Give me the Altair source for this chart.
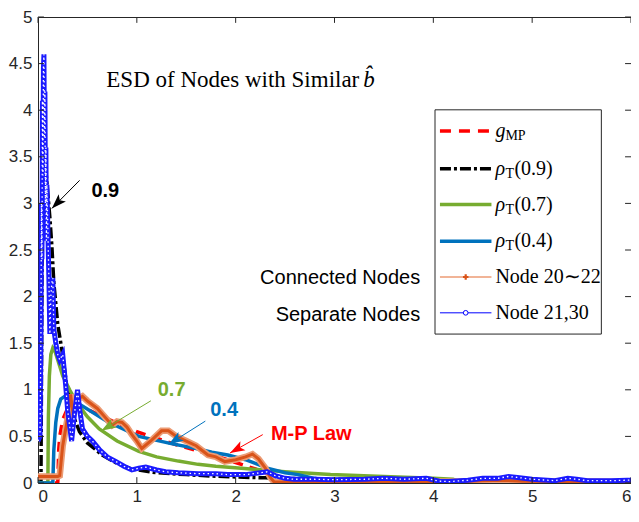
import math
import altair as alt
import pandas as pd

# ---------------- data ----------------
X_TICKS = [0, 1, 2, 3, 4, 5, 6]
Y_TICKS = [0, 0.5, 1, 1.5, 2, 2.5, 3, 3.5, 4, 4.5, 5]

mp_x = [0, 0.2, 0.21, 0.22, 0.25, 0.3, 0.35, 0.4, 0.5, 0.6, 0.8, 1.0, 1.2, 1.4, 1.6,
        1.8, 2.0, 2.2, 2.3, 2.38, 2.41, 3.0, 4.0, 5.0, 6.0]
mp_y = [0, 0, 0.36, 0.50, 0.68, 0.80, 0.83, 0.82, 0.79, 0.74, 0.64, 0.55, 0.48, 0.41, 0.35,
        0.29, 0.22, 0.15, 0.11, 0.06, 0, 0, 0, 0, 0]

r9_x = [0, 0.03, 0.04, 0.05, 0.065, 0.08, 0.1, 0.12, 0.14, 0.16, 0.2, 0.24, 0.29, 0.35, 0.42,
        0.5, 0.65, 0.8, 0.95, 1.2, 1.5, 1.75, 2.0, 2.3, 3.0, 3.5, 4.0, 4.5, 5.0, 5.5, 6.0]
r9_y = [0, 0, 2.2, 3.3, 3.5, 3.35, 3.1, 2.85, 2.55, 2.15, 1.7, 1.44, 1.05, 0.74, 0.55,
        0.43, 0.30, 0.21, 0.15, 0.11, 0.09, 0.075, 0.065, 0.055, 0.04, 0.035, 0.03, 0.025, 0.02, 0.015, 0.01]

r7_x = [0, 0.1, 0.105, 0.115, 0.13, 0.15, 0.17, 0.2, 0.25, 0.32, 0.4, 0.5, 0.62, 0.8, 1.02,
        1.2, 1.42, 1.62, 1.8, 2.09, 2.5, 2.96, 3.5, 4.0, 4.2, 4.3, 6.0]
r7_y = [0, 0, 0.7, 1.15, 1.38, 1.45, 1.42, 1.32, 1.15, 1.0, 0.85, 0.71, 0.58, 0.45, 0.34,
        0.28, 0.235, 0.2, 0.18, 0.155, 0.12, 0.09, 0.07, 0.05, 0.04, 0, 0]

r4_x = [0, 0.15, 0.16, 0.18, 0.2, 0.23, 0.27, 0.3, 0.35, 0.49, 0.7, 1.02, 1.36, 1.6, 1.76,
        1.92, 2.1, 2.32, 2.5, 2.63, 2.8, 2.95, 3.0, 6.0]
r4_y = [0, 0, 0.35, 0.65, 0.8, 0.9, 0.93, 0.92, 0.89, 0.8, 0.66, 0.5, 0.42, 0.37, 0.33,
        0.3, 0.25, 0.16, 0.11, 0.09, 0.05, 0.02, 0, 0]

con_x = [0, 0.2, 0.22, 0.25, 0.3, 0.33, 0.35, 0.4, 0.45, 0.5, 0.6, 0.7, 0.75, 0.8, 0.85,
         0.9, 0.95, 1.0, 1.05, 1.15, 1.25, 1.32, 1.4, 1.5, 1.6, 1.72, 1.8, 1.89, 2.0, 2.1,
         2.17, 2.23, 2.3, 2.35, 2.39, 2.6, 3.0, 3.5, 4.0, 4.3, 4.5, 4.7, 4.9, 5.2, 5.5, 6.0]
con_y = [0.07, 0.07, 0.08, 0.4, 0.7, 0.95, 0.78, 0.9, 0.93, 0.88, 0.8, 0.68, 0.62, 0.66, 0.65,
         0.6, 0.52, 0.45, 0.37, 0.46, 0.56, 0.56, 0.5, 0.45, 0.4, 0.3, 0.28, 0.23, 0.25, 0.28,
         0.31, 0.26, 0.16, 0.06, 0.01, 0.01, 0.015, 0.01, 0.015, 0.015, 0.025, 0.03, 0.02, 0.015, 0.015, 0.01]

sep_x = [0, 0.02, 0.03, 0.035, 0.04, 0.045, 0.05, 0.055, 0.06, 0.065, 0.07, 0.075, 0.08,
         0.085, 0.09, 0.1, 0.11, 0.12, 0.13, 0.14, 0.15, 0.16, 0.18, 0.2, 0.22, 0.25, 0.28,
         0.3, 0.34, 0.37, 0.4, 0.42, 0.45, 0.5, 0.55, 0.62, 0.7, 0.79, 0.87, 0.95, 1.02, 1.09,
         1.2, 1.29, 1.42, 1.62, 1.8, 1.92, 2.1, 2.25, 2.32, 2.4, 2.5, 2.59, 2.8, 3.0, 3.3, 3.5,
         3.7, 3.93, 4.06, 4.16, 4.35, 4.5, 4.65, 4.76, 4.85, 5.0, 5.23, 5.36, 5.45, 5.56, 5.8,
         5.96, 6.0]
sep_y = [0.45, 0.5, 1.6, 3.0, 2.4, 4.1, 3.3, 4.45, 4.6, 3.7, 4.2, 3.0, 3.6,
         2.6, 3.2, 2.7, 2.2, 1.6, 2.0, 2.15, 2.2, 1.65, 1.5, 1.38, 1.32, 1.38, 1.05,
         0.78, 0.45, 0.75, 1.0, 0.8, 0.58, 0.5, 0.45, 0.36, 0.28, 0.23, 0.18, 0.14, 0.16, 0.17,
         0.14, 0.12, 0.11, 0.10, 0.1, 0.09, 0.09, 0.11, 0.12, 0.08, 0.05, 0.04, 0.04, 0.035, 0.04, 0.05,
         0.04, 0.05, 0.02, 0.015, 0.03, 0.05, 0.05, 0.07, 0.06, 0.04, 0.025, 0.05, 0.04, 0.025, 0.025,
         0.03, 0.03]

# legend / annotation anchors (data units)
LEG_BOX = (4.017, 5.70, 4.004, 1.598)
LEG_ROWS = [3.776, 3.371, 2.988, 2.593, 2.21, 1.826]
LEG_LINE = (4.067, 4.588)
LEG_TEXT_X = 4.628

ann_text = ["0.9", "0.7", "0.4", "M-P Law"]
ann_color = ["#000000", "#77AC30", "#0072BD", "#FF0000"]
ann_tx = [0.681, 1.352, 1.883, 2.765]
ann_ty = [3.133, 0.996, 0.778, 0.529]
arr_tail_x = [0.421, 1.142, 1.693, 2.274]
arr_tail_y = [3.247, 0.882, 0.664, 0.519]
arr_head_x = [0.140, 0.641, 1.322, 1.943]
arr_head_y = [2.946, 0.560, 0.415, 0.322]

# ---------------- scales and helpers ----------------
W, H = 593, 466
xs = alt.Scale(domain=[0, 6], nice=False, zero=False)
ys = alt.Scale(domain=[0, 5], nice=False, zero=False)
xax = alt.Axis(values=X_TICKS, format="~g", labelPadding=18, labelBaseline="alphabetic", title=None)
yax = alt.Axis(values=Y_TICKS, format="~g", labelPadding=6, title=None)


def ex(f):
    return alt.X(f"{f}:Q", scale=xs, axis=xax)


def ey(f):
    return alt.Y(f"{f}:Q", scale=ys, axis=yax)


def series(xv, yv, **mark):
    df = pd.DataFrame({"x": xv, "y": yv, "i": range(len(xv))})
    return alt.Chart(df).mark_line(clip=True, **mark).encode(x=ex("x"), y=ey("y"), order="i:Q")


layers = []
layers.append(series(mp_x, mp_y, color="#FF0000", strokeWidth=3.5, strokeDash=[10, 7]))
layers.append(series(r9_x, r9_y, color="#000000", strokeWidth=3.5, strokeDash=[11, 3, 3, 3]))
layers.append(series(r7_x, r7_y, color="#77AC30", strokeWidth=3.5))
layers.append(series(r4_x, r4_y, color="#0072BD", strokeWidth=3.5))
layers.append(series(con_x, con_y, color="#EC9B74", strokeWidth=6.5))
layers.append(series(con_x, con_y, color="#D95319", strokeWidth=3))
layers.append(series(sep_x, sep_y, color="#1A1AFF", strokeWidth=5))
layers.append(series(sep_x, sep_y, color="#FFFFFF", strokeWidth=1.3, strokeDash=[1.5, 3]))

# inward ticks
TX, TY = 0.06, 0.063
tk = []
for t in X_TICKS:
    tk.append({"x": t, "x2": t, "y": 0, "y2": TY})
    tk.append({"x": t, "x2": t, "y": 5, "y2": 5 - TY})
for v in Y_TICKS:
    tk.append({"x": 0, "x2": TX, "y": v, "y2": v})
    tk.append({"x": 6, "x2": 6 - TX, "y": v, "y2": v})
layers.append(alt.Chart(pd.DataFrame(tk)).mark_rule(color="#262626", strokeWidth=1).encode(
    x=ex("x"), x2="x2:Q", y=ey("y"), y2="y2:Q"))

# title
layers.append(alt.Chart(pd.DataFrame({"x": [0.691], "y": [4.326], "t": ["ESD of Nodes with Similar"]}))
              .mark_text(font="Liberation Serif", fontSize=23, align="left", baseline="middle", color="#000000")
              .encode(x=ex("x"), y=ey("y"), text="t:N"))
layers.append(alt.Chart(pd.DataFrame({"x": [3.29], "y": [4.326], "t": ["b\u0302"]}))
              .mark_text(font="Liberation Serif", fontSize=23, fontStyle="italic", align="left",
                         baseline="middle", color="#000000")
              .encode(x=ex("x"), y=ey("y"), text="t:N"))

# annotations + arrows
PXX, PXY = W / 6, H / 5
angles = []
for tx, ty, hx, hy in zip(arr_tail_x, arr_tail_y, arr_head_x, arr_head_y):
    dx = (hx - tx) * PXX
    dy = -(hy - ty) * PXY
    angles.append(math.degrees(math.atan2(dx, -dy)) % 360)
arr = pd.DataFrame({"tx": arr_tail_x, "ty": arr_tail_y, "hx": arr_head_x, "hy": arr_head_y,
                    "c": ann_color, "a": angles})
layers.append(alt.Chart(arr).mark_rule(strokeWidth=1).encode(
    x=ex("tx"), y=ey("ty"), x2="hx:Q", y2="hy:Q", color=alt.Color("c:N", scale=None)))
layers.append(alt.Chart(arr).mark_point(shape="M0,0L0.45,1.3L0,1.0L-0.45,1.3Z", filled=True, opacity=1,
                                        size=520, strokeWidth=0).encode(
    x=ex("hx"), y=ey("hy"), color=alt.Color("c:N", scale=None), angle=alt.Angle("a:Q", scale=None)))
ann = pd.DataFrame({"x": ann_tx, "y": ann_ty, "t": ann_text, "c": ann_color})
layers.append(alt.Chart(ann).mark_text(font="Liberation Sans", fontSize=20, fontWeight="bold",
                                       baseline="middle", align="center").encode(
    x=ex("x"), y=ey("y"), text="t:N", color=alt.Color("c:N", scale=None)))

side = pd.DataFrame({"x": [3.867, 3.867], "y": [2.199, 1.805], "t": ["Connected Nodes", "Separate Nodes"]})
layers.append(alt.Chart(side).mark_text(font="Liberation Sans", fontSize=20, align="right",
                                        baseline="middle", color="#000000").encode(
    x=ex("x"), y=ey("y"), text="t:N"))

# legend box
lb = pd.DataFrame({"x": [LEG_BOX[0]], "x2": [LEG_BOX[1]], "y": [LEG_BOX[2]], "y2": [LEG_BOX[3]]})
layers.append(alt.Chart(lb).mark_rect(fill="white", stroke="#262626", strokeWidth=1).encode(
    x=ex("x"), x2="x2:Q", y=ey("y"), y2="y2:Q"))

leg_styles = [
    dict(color="#FF0000", strokeWidth=3.5, strokeDash=[11, 8]),
    dict(color="#000000", strokeWidth=3.5, strokeDash=[11, 3, 3, 3]),
    dict(color="#77AC30", strokeWidth=3.5),
    dict(color="#0072BD", strokeWidth=3.5),
    dict(color="#EC9B74", strokeWidth=1.5),
    dict(color="#0000FF", strokeWidth=1),
]
for ry, st in zip(LEG_ROWS, leg_styles):
    d = pd.DataFrame({"x": [LEG_LINE[0]], "x2": [LEG_LINE[1]], "y": [ry]})
    layers.append(alt.Chart(d).mark_rule(**st).encode(x=ex("x"), x2="x2:Q", y=ey("y")))

mid = (LEG_LINE[0] + LEG_LINE[1]) / 2
layers.append(alt.Chart(pd.DataFrame({"x": [mid], "y": [LEG_ROWS[4]]})).mark_point(
    shape="cross", filled=True, size=30, color="#D95319", opacity=1).encode(x=ex("x"), y=ey("y")))
layers.append(alt.Chart(pd.DataFrame({"x": [mid], "y": [LEG_ROWS[5]]})).mark_point(
    shape="circle", filled=True, fill="white", stroke="#0000FF", strokeWidth=1, size=22, opacity=1).encode(
    x=ex("x"), y=ey("y")))

# legend text
main_t = pd.DataFrame({"x": [LEG_TEXT_X] * 4, "y": LEG_ROWS[:4], "t": ["g", "\u03c1", "\u03c1", "\u03c1"]})
layers.append(alt.Chart(main_t).mark_text(font="Liberation Serif", fontSize=20, fontStyle="italic",
                                          align="left", baseline="middle", color="#000000").encode(
    x=ex("x"), y=ey("y"), text="t:N"))
sub_t = pd.DataFrame({"x": [LEG_TEXT_X] * 4, "y": LEG_ROWS[:4], "t": ["MP", "T", "T", "T"]})
layers.append(alt.Chart(sub_t).mark_text(font="Liberation Serif", fontSize=14, align="left",
                                         baseline="middle", dx=10, dy=5, color="#000000").encode(
    x=ex("x"), y=ey("y"), text="t:N"))
arg_t = pd.DataFrame({"x": [LEG_TEXT_X] * 3, "y": LEG_ROWS[1:4], "t": ["(0.9)", "(0.7)", "(0.4)"]})
layers.append(alt.Chart(arg_t).mark_text(font="Liberation Serif", fontSize=20, align="left",
                                         baseline="middle", dx=19, color="#000000").encode(
    x=ex("x"), y=ey("y"), text="t:N"))
node_t = pd.DataFrame({"x": [LEG_TEXT_X] * 2, "y": LEG_ROWS[4:], "t": ["Node 20\u223c22", "Node 21,30"]})
layers.append(alt.Chart(node_t).mark_text(font="Liberation Serif", fontSize=20, align="left",
                                          baseline="middle", color="#000000").encode(
    x=ex("x"), y=ey("y"), text="t:N"))

chart = alt.layer(*layers).properties(
    width=W, height=H,
    autosize=alt.AutoSizeParams(type="none"),
    padding={"left": 30, "top": 9, "right": 0, "bottom": 22},
    background="white",
).configure_view(stroke="#262626", strokeWidth=1).configure_axis(
    labelFont="Liberation Sans", labelFontSize=17, labelColor="#262626",
    domain=False, ticks=False, tickSize=0, grid=False)

chart.save("out.html", embed_options={"renderer": "svg", "actions": False})
